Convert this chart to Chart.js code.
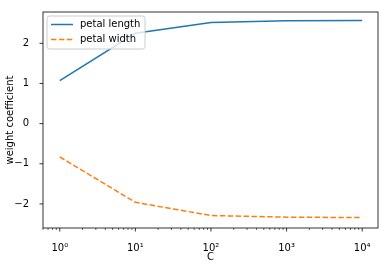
<!DOCTYPE html>
<html>
<head>
<meta charset="utf-8">
<script src="https://cdn.jsdelivr.net/npm/chart.js@4.4.0/dist/chart.umd.min.js"></script>
<style>
  html, body { margin: 0; padding: 0; background: #fff; }
  #wrap { width: 388px; height: 270px; }
</style>
</head>
<body>
<div id="wrap"><canvas id="chart"></canvas></div>
<script>
// --- data ---
const C_VALUES = [1, 10, 100, 1000, 10000];
const PETAL_LENGTH = [1.07, 2.25, 2.52, 2.56, 2.57];
const PETAL_WIDTH = [-0.83, -1.96, -2.29, -2.33, -2.34];
const SERIES_LABELS = ['petal length', 'petal width'];
const Y_TICKS = [-2, -1, 0, 1, 2];
const SUPER = { '0': '\u2070', '1': '\u00b9', '2': '\u00b2', '3': '\u00b3', '4': '\u2074' };

const FONT = 'DejaVu Sans';
Chart.defaults.font.family = FONT;
Chart.defaults.font.size = 10;
Chart.defaults.color = '#000';

function toPoints(ys) {
    return C_VALUES.map((c, i) => ({ x: c, y: ys[i] }));
}

// every 1..9 x 10^n inside the axis range, like matplotlib's minor locator
function logTicks(min, max) {
    const out = [];
    for (let e = -1; e <= 5; e++) {
        for (let m = 1; m <= 9; m++) {
            const v = m * Math.pow(10, e);
            if (v >= min && v <= max) out.push({ value: v, major: m === 1 });
        }
    }
    return out;
}

// spines + outward tick marks
const framePlugin = {
    id: 'frame',
    afterDatasetsDraw(chart) {
        const { ctx, chartArea: a, scales } = chart;
        ctx.save();
        ctx.strokeStyle = '#000';
        ctx.lineWidth = 0.8;
        ctx.strokeRect(a.left, a.top, a.right - a.left, a.bottom - a.top);
        scales.x.ticks.forEach(t => {
            const px = scales.x.getPixelForValue(t.value);
            const len = t.major ? 3.5 : 2;
            ctx.lineWidth = t.major ? 0.8 : 0.6;
            ctx.beginPath();
            ctx.moveTo(px, a.bottom);
            ctx.lineTo(px, a.bottom + len);
            ctx.stroke();
        });
        ctx.lineWidth = 0.8;
        scales.y.ticks.forEach(t => {
            const py = scales.y.getPixelForValue(t.value);
            ctx.beginPath();
            ctx.moveTo(a.left, py);
            ctx.lineTo(a.left - 3.5, py);
            ctx.stroke();
        });
        ctx.restore();
    }
};

// matplotlib-like legend inside the axes, upper left
const legendPlugin = {
    id: 'mplLegend',
    afterDraw(chart) {
        const { ctx, chartArea: a } = chart;
        const x = a.left + 4, y = a.top + 4, w = 98, h = 33;
        ctx.save();
        ctx.beginPath();
        ctx.roundRect(x, y, w, h, 2.5);
        ctx.fillStyle = 'rgba(255,255,255,0.8)';
        ctx.fill();
        ctx.strokeStyle = '#cccccc';
        ctx.lineWidth = 1;
        ctx.stroke();
        ctx.font = '10px "' + FONT + '"';
        ctx.textBaseline = 'middle';
        chart.data.datasets.forEach((ds, i) => {
            const ry = y + 8.5 + i * 15;
            ctx.strokeStyle = ds.borderColor;
            ctx.lineWidth = 1.5;
            ctx.setLineDash(ds.borderDash || []);
            ctx.beginPath();
            ctx.moveTo(x + 4, ry);
            ctx.lineTo(x + 26, ry);
            ctx.stroke();
            ctx.setLineDash([]);
            ctx.fillStyle = '#000';
            ctx.fillText(ds.label, x + 33, ry);
        });
        ctx.restore();
    }
};

new Chart(document.getElementById('chart'), {
    type: 'line',
    data: {
        datasets: [
            { label: SERIES_LABELS[0], data: toPoints(PETAL_LENGTH), borderColor: '#1f77b4', borderWidth: 1.5, pointRadius: 0, tension: 0, fill: false },
            { label: SERIES_LABELS[1], data: toPoints(PETAL_WIDTH), borderColor: '#ff7f0e', borderWidth: 1.5, borderDash: [5.5, 2.4], pointRadius: 0, tension: 0, fill: false }
        ]
    },
    options: {
        responsive: true,
        maintainAspectRatio: false,
        animation: false,
        events: [],
        layout: { padding: { top: 12, right: 10, left: 0, bottom: 0 } },
        plugins: { legend: { display: false }, tooltip: { enabled: false } },
        scales: {
            x: {
                type: 'logarithmic',
                min: 0.63,
                max: 16200,
                grid: { display: false },
                border: { display: false },
                afterBuildTicks: s => { s.ticks = logTicks(s.min, s.max); },
                afterFit: s => { s.height = 42; },
                ticks: {
                    autoSkip: false,
                    maxRotation: 0,
                    padding: 6,
                    callback: v => {
                        const e = Math.log10(v);
                        if (Math.abs(e - Math.round(e)) > 1e-9) return '';
                        return '10' + String(Math.round(e)).split('').map(d => SUPER[d]).join('');
                    }
                },
                title: { display: true, text: 'C', padding: { top: 0, bottom: 7 } }
            },
            y: {
                min: -2.6,
                max: 2.78,
                grid: { display: false },
                border: { display: false },
                afterBuildTicks: s => { s.ticks = Y_TICKS.map(v => ({ value: v })); },
                afterFit: s => { s.width = 43; },
                ticks: {
                    padding: 6,
                    callback: v => (v < 0 ? '\u2212' + Math.abs(v) : String(v))
                },
                title: { display: true, text: 'weight coefficient', padding: { top: 4, bottom: 0 } }
            }
        }
    },
    plugins: [framePlugin, legendPlugin]
});
</script>
</body>
</html>
